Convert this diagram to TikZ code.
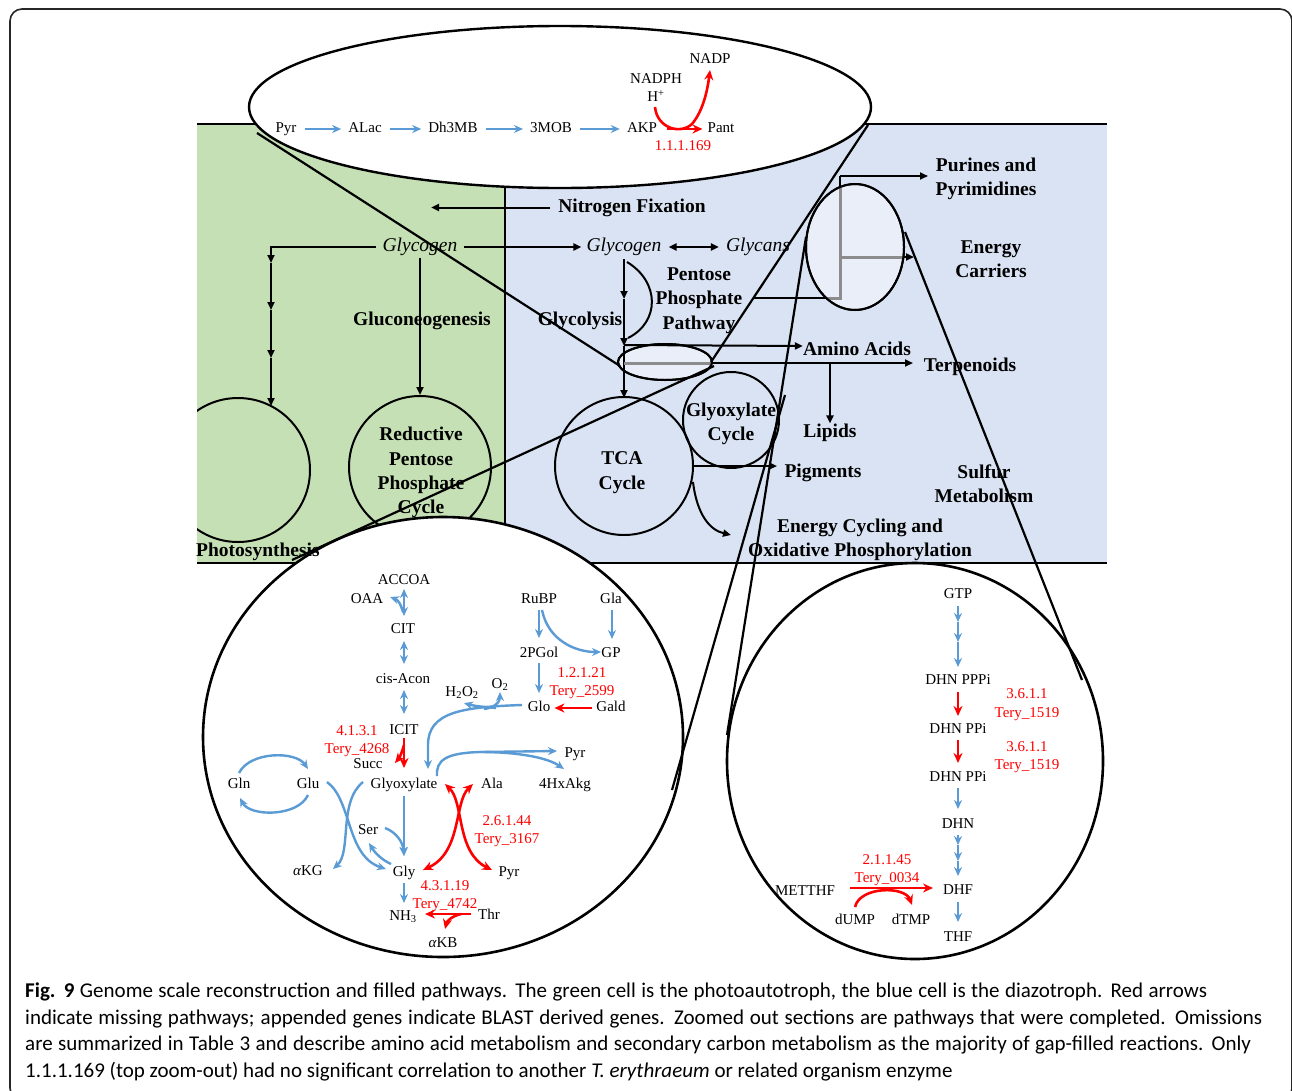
\documentclass[tikz,border=0pt]{standalone}
\usepackage{fontspec}
\setmainfont{Liberation Serif}
\newfontfamily\capfont{Carlito}
\usetikzlibrary{arrows.meta,shapes.geometric}
\definecolor{cellgreen}{HTML}{C5E0B4}
\definecolor{cellblue}{HTML}{DAE3F3}
\definecolor{zoomfill}{HTML}{E9EEF8}
\definecolor{pblue}{HTML}{5B9BD5}
\definecolor{pred}{HTML}{FF0000}
\definecolor{routegray}{HTML}{8C8C8C}
\tikzset{
  blk/.style={line width=2pt},
  blkarr/.style={line width=2pt,-{Triangle[length=8pt,width=7pt]}},
  blkdbl/.style={line width=2pt,{Triangle[length=8pt,width=7pt]}-{Triangle[length=8pt,width=7pt]}},
  bl/.style={draw=pblue,line width=2.4pt,-{Stealth[length=9pt,width=8pt]}},
  bldbl/.style={draw=pblue,line width=2.4pt,{Stealth[length=9pt,width=8pt]}-{Stealth[length=9pt,width=8pt]}},
  rd/.style={draw=pred,line width=2.6pt,-{Stealth[length=10pt,width=9pt]}},
  rddbl/.style={draw=pred,line width=2.6pt,{Stealth[length=10pt,width=9pt]}-{Stealth[length=10pt,width=9pt]}},
  lab/.style={inner sep=0pt,yshift=-2pt,font=\fontsize{15}{17}\selectfont,text height=10.5pt,text depth=3.2pt},
  rlab/.style={lab,text=pred},
  big/.style={inner sep=0pt,yshift=-2.5pt,align=center,font=\fontsize{19.5}{24.3}\selectfont\bfseries},
  itl/.style={inner sep=0pt,yshift=-2pt,font=\fontsize{19.5}{22}\selectfont\itshape,text height=13.5pt,text depth=4pt},
  zline/.style={line width=2.2pt},
  bigc/.style={line width=2.6pt,draw=black,fill=white},
  capline/.style={anchor=west,inner sep=0pt,font=\capfont\fontsize{21}{26}\selectfont},
}
\begin{document}
\begin{tikzpicture}[x=1pt,y=-1pt]
\useasboundingbox (0,0) rectangle (1292,1090);
\fill[white] (0,0) rectangle (1292,1090);
\draw[line width=1.6pt,draw=black!85,rounded corners=12pt] (10,9) rectangle (1292,1100);

% ---------------- cells
\fill[cellgreen] (197,124) rectangle (505,563);
\fill[cellblue] (505,124) rectangle (1107,563);
\draw[blk] (197,124) -- (1107,124);
\draw[blk] (197,563) -- (1107,563);
\draw[blk] (505,124) -- (505,563);

% ---------------- green cell
\node[itl] (glyg) at (420,245) {Glycogen};
\node[big] (glucon) at (422,318) {Gluconeogenesis};
\node[circle,draw,line width=2pt,minimum size=142pt,inner sep=0pt] (rppc) at (420,467) {};
\node[big] (rppct) at (421,470) {Reductive\\Pentose\\Phosphate\\Cycle};
\begin{scope}
  \clip (197,124) rectangle (505,563);
  \node[circle,draw,line width=2pt,minimum size=144pt,inner sep=0pt] (photo) at (238,470) {};
\end{scope}
\draw[blk,line join=miter] (376,247) -- (271,247) -- (271,256);
\draw[blkarr] (271,247) -- (271,263);
\draw[blkarr] (271,263) -- (271,310);
\draw[blkarr] (271,310) -- (271,358);
\draw[blkarr] (271,358) -- (271,406);
\draw[blkarr] ([yshift=-2pt]glyg.south) -- (rppc.north);

% ---------------- blue cell
\node[big] (nfix) at (632,205) {Nitrogen Fixation};
\draw[blkarr,shorten <=8pt] (nfix.west) -- ++(-127,0);
\node[itl] (glyb) at (624,245) {Glycogen};
\node[itl] (glycans) at (758,245) {Glycans};
\draw[blkarr,shorten <=6pt,shorten >=5pt] (glyg) -- (glyb);
\draw[blkdbl,shorten <=7pt,shorten >=7pt] (glyb) -- (glycans);
\node[big] (glycol) at (580,318) {Glycolysis};
\node[big] (ppp) at (699,298) {Pentose\\Phosphate\\Pathway};
\node[big] (purines) at (986,176) {Purines and\\Pyrimidines};
\node[big] (ecarr) at (991,257) {Energy\\Carriers};
\node[big] (amino) at (857,346) {Amino Acids};
\node[big] (terp) at (970,364) {Terpenoids};
\node[big] (lipids) at (830,430) {Lipids};
\node[big] (pigm) at (823,470) {Pigments};
\node[big] (sulf) at (984,481) {Sulfur\\Metabolism};
\node[big] (ecyc) at (860,537) {Energy Cycling and\\Oxidative Phosphorylation};

% glycolysis spine
\draw[blkarr] (624,259) -- (624,299);
\draw[blkarr] (624,299) -- (624,346);
\draw[line width=2pt] (627,262) .. controls (660,282) and (660,322) .. (628,338);
% small ellipse (zoomed to top)
\node[ellipse,draw,line width=2pt,fill=zoomfill,minimum width=94pt,minimum height=36pt,inner sep=0pt] (smell) at (665,362) {};
\draw[blkarr] (624,346) -- (624,398);
\draw[blkarr] (624,345) -- ([yshift=2.5pt]amino.west);
\draw[blkarr] (624,363) -- (913,363);
\begin{scope}
  \clip (665,362) ellipse [x radius=47,y radius=18];
  \draw[line width=3pt,draw=routegray] (624,363) -- (720,363);
\end{scope}
\draw[line width=2pt] (665,362) ellipse [x radius=47,y radius=18];
\draw[blkarr] (830,363) -- (lipids.north);

% TCA and glyoxylate
\node[circle,draw,line width=2pt,minimum size=138pt,inner sep=0pt] (tca) at (624,466) {};
\node[big] (tcat) at (622,470) {TCA\\Cycle};
\node[circle,draw,line width=2pt,minimum size=96pt,inner sep=0pt] (glxc) at (731,420) {};
\node[big] (glxt) at (731,421) {Glyoxylate\\Cycle};
\draw[blkarr] (tca.east) -- (777,466);
\draw[blkarr] (693,482) .. controls (697,515) and (710,530) .. (731,535);

% purines ellipse and routes
\node[ellipse,draw,line width=2pt,fill=zoomfill,minimum width=98pt,minimum height=126pt,inner sep=0pt] (purell) at (855,247) {};
\draw[blk] (753,298) -- (840,298) -- (840,176);
\draw[blkarr] (840,176) -- (928,176);
\draw[blkarr] (840,257) -- (914,257);
\begin{scope}
  \clip (855,247) ellipse [x radius=49,y radius=63];
  \draw[line width=3pt,draw=routegray] (790,298) -- (840,298) -- (840,170);
  \draw[line width=3pt,draw=routegray] (840,257) -- (910,257);
\end{scope}
\draw[line width=2pt] (855,247) ellipse [x radius=49,y radius=63];

% ---------------- zoom lines to top ellipse
\coordinate (l1a) at (257,133);
\coordinate (l1b) at (620,366);
\coordinate (l2a) at (868,125);
\coordinate (l2b) at (711,362);
\draw[zline] (l1a) -- (l1b);
\draw[zline] (l2a) -- (l2b);

% ---------------- top ellipse
\draw[line width=2.4pt,fill=white] (560,107) ellipse [x radius=311,y radius=81];
\node[lab] (pyr) at (286,127) {Pyr};
\node[lab] (alac) at (365,127) {ALac};
\node[lab] (dh3mb) at (453,127) {Dh3MB};
\node[lab] (mob) at (551,127) {3MOB};
\node[lab] (akp) at (642,127) {AKP};
\node[lab] (pant) at (721,127) {Pant};
\node[lab] (nadph) at (656,78) {NADPH};
\node[lab] (hplus) at (656,96) {H\textsuperscript{+}};
\node[lab] (nadp) at (710,58) {NADP};
\node[rlab] (ec169) at (683,145) {1.1.1.169};
\foreach \a/\b in {pyr/alac,alac/dh3mb,dh3mb/mob,mob/akp}
  \draw[bl,shorten <=8pt,shorten >=7pt] (\a) -- (\b);
\draw[rd,shorten <=10pt,shorten >=5pt] (akp) -- (pant);
\draw[rd] (655,107) .. controls (657,128) and (680,135) .. (692,124) .. controls (702,112) and (707,94) .. (710,70);

% ---------------- bottom circles
\draw[bigc] (443,737) ellipse [x radius=240,y radius=220];
\draw[bigc] (915,761) ellipse [x radius=188,y radius=198];
\node[big,anchor=west] (photot) at (196,549) {Photosynthesis};

% zoom lines to bottom circles
\coordinate (l3a) at (714,366);
\coordinate (l3b) at (292,560);
\coordinate (laa) at (785,395);
\coordinate (lab) at (672,790);
\coordinate (lba) at (806,237);
\coordinate (lbb) at (727,735);
\coordinate (lra) at (905,232);
\coordinate (lrb) at (1082,680);
\draw[zline] (l3a) -- (l3b);
\draw[zline] (laa) -- (lab);
\draw[zline] (lba) -- (lbb);
\draw[zline] (lra) -- (lrb);

% ---------------- bottom-left circle content
\node[lab] (accoa) at (404,579) {ACCOA};
\node[lab] (oaa) at (367,598) {OAA};
\node[lab] (cit) at (403,628) {CIT};
\node[lab] (cisacon) at (403,678) {cis-Acon};
\node[lab] (icit) at (404,729) {ICIT};
\node[rlab] (ec4131) at (357,730) {4.1.3.1};
\node[rlab] (tery4268) at (357,748) {Tery\_4268};
\node[lab] (succ) at (368,763) {Succ};
\node[lab] (glyox) at (404,783) {Glyoxylate};
\node[lab] (h2o2) at (462,691) {H\textsubscript{2}O\textsubscript{2}};
\node[lab] (o2) at (500,683) {O\textsubscript{2}};
\node[lab] (glo) at (539,706) {Glo};
\node[lab] (gald) at (611,706) {Gald};
\node[rlab] (ec12121) at (582,672) {1.2.1.21};
\node[rlab] (tery2599) at (582,690) {Tery\_2599};
\node[lab] (rubp) at (539,598) {RuBP};
\node[lab] (gla) at (611,598) {Gla};
\node[lab] (pgol) at (539,652) {2PGol};
\node[lab] (gp) at (611,652) {GP};
\node[lab] (pyra) at (575,752) {Pyr};
\node[lab] (hxakg) at (565,783) {4HxAkg};
\node[lab] (ala) at (492,783) {Ala};
\node[lab] (gln) at (239,783) {Gln};
\node[lab] (glu) at (308,783) {Glu};
\node[lab] (ser) at (368,829) {Ser};
\node[lab] (akg) at (308,870) {{\itshape α}KG};
\node[lab] (gly) at (404,871) {Gly};
\node[lab] (pyrb) at (509,871) {Pyr};
\node[rlab] (ec26144) at (507,820) {2.6.1.44};
\node[rlab] (tery3167) at (507,838) {Tery\_3167};
\node[rlab] (ec43119) at (445,885) {4.3.1.19};
\node[rlab] (tery4742) at (445,903) {Tery\_4742};
\node[lab] (nh3) at (403,915) {NH\textsubscript{3}};
\node[lab] (thr) at (489,914) {Thr};
\node[lab] (akb) at (443,942) {{\itshape α}KB};

\draw[bldbl] (404,589) -- (404,616);
\draw[bl] (403,612) .. controls (401,604) and (398,600) .. (390,597);
\draw[bldbl] (404,641) -- (404,664);
\draw[bldbl] (404,690) -- (404,714);
\draw[bl] (539,610) -- (539,638);
\draw[bl] (542,610) .. controls (548,640) and (575,652) .. (601,652);
\draw[bl] (612,610) -- (612,639);
\draw[bl] (539,663) -- (539,693);
\draw[rd,shorten <=4pt,shorten >=4pt] (gald) -- (glo);
\draw[bl] (522,705) .. controls (462,707) and (428,712) .. (428,745) -- (428,769);
\draw[bl] (496,708) .. controls (485,707) and (474,706) .. (464,703);
\draw[bl] (484,709) .. controls (494,708) and (500,702) .. (500,692);
\draw[bl] (437,776) .. controls (436,760) and (446,753) .. (480,752) -- (557,751);
\draw[bl] (480,752) .. controls (520,752) and (548,758) .. (564,769);
\draw[rd] (404,738) -- (404,768);
\draw[rd] (404,745) .. controls (402,752) and (400,757) .. (395,763);
\draw[bl] (239,773) .. controls (250,751) and (296,751) .. (308,769);
\draw[bl] (308,795) .. controls (298,817) and (250,817) .. (240,798);
\draw[bl] (404,796) -- (404,856);
\draw[bl] (385,828) .. controls (396,832) and (403,842) .. (404,856);
\draw[bl] (391,864) .. controls (382,860) and (375,853) .. (369,843);
\draw[bl] (327,782) .. controls (352,800) and (346,856) .. (386,869);
\draw[bl] (363,782) .. controls (338,802) and (352,852) .. (333,869);
\draw[rddbl] (445,784) .. controls (464,802) and (456,852) .. (492,870);
\draw[rddbl] (473,784) .. controls (454,802) and (462,852) .. (423,870);
\draw[bl] (404,883) -- (404,903);
\draw[rd] (471,914) -- (425,914);
\draw[rd] (461,914) .. controls (452,916) and (447,921) .. (445,929);

% ---------------- bottom-right circle content
\node[lab] (gtp) at (958,593) {GTP};
\node[lab] (dhnpppi) at (958,679) {DHN PPPi};
\node[lab] (dhnppia) at (958,728) {DHN PPi};
\node[lab] (dhnppib) at (958,776) {DHN PPi};
\node[lab] (dhn) at (958,823) {DHN};
\node[lab] (dhf) at (958,889) {DHF};
\node[lab] (thf) at (958,936) {THF};
\node[lab] (metthf) at (805,890) {METTHF};
\node[lab] (dump) at (855,919) {dUMP};
\node[lab] (dtmp) at (911,919) {dTMP};
\node[rlab] (ec3611a) at (1027,693) {3.6.1.1};
\node[rlab] (tery1519a) at (1027,712) {Tery\_1519};
\node[rlab] (ec3611b) at (1027,746) {3.6.1.1};
\node[rlab] (tery1519b) at (1027,764) {Tery\_1519};
\node[rlab] (ec21145) at (887,859) {2.1.1.45};
\node[rlab] (tery0034) at (887,877) {Tery\_0034};

\draw[bl] (958,606) -- (958,622);
\draw[bl] (958,622) -- (958,642);
\draw[bl] (958,642) -- (958,667);
\draw[rd] (958,692) -- (958,716);
\draw[rd] (958,740) -- (958,763);
\draw[bl] (958,788) -- (958,809);
\draw[bl] (958,835) -- (958,845);
\draw[bl] (958,845) -- (958,861);
\draw[bl] (958,861) -- (958,876);
\draw[bl] (958,902) -- (958,922);
\draw[rd] (850,888) -- (933,888);
\draw[rd] (855,907) .. controls (860,886) and (905,886) .. (912,905);

% ---------------- caption
\node[capline] (cap1) at (25,992) {\makebox[1182pt][s]{\textbf{Fig. 9} Genome scale reconstruction and filled pathways. The green cell is the photoautotroph, the blue cell is the diazotroph. Red arrows}};
\node[capline] (cap2) at (25,1019) {\makebox[1237pt][s]{indicate missing pathways; appended genes indicate BLAST derived genes. Zoomed out sections are pathways that were completed. Omissions}};
\node[capline] (cap3) at (25,1045) {\makebox[1226pt][s]{are summarized in Table 3 and describe amino acid metabolism and secondary carbon metabolism as the majority of gap-filled reactions. Only}};
\node[capline] (cap4) at (25,1072) {1.1.1.169 (top zoom-out) had no significant correlation to another \textit{T. erythraeum} or related organism enzyme};
\end{tikzpicture}
\end{document}
